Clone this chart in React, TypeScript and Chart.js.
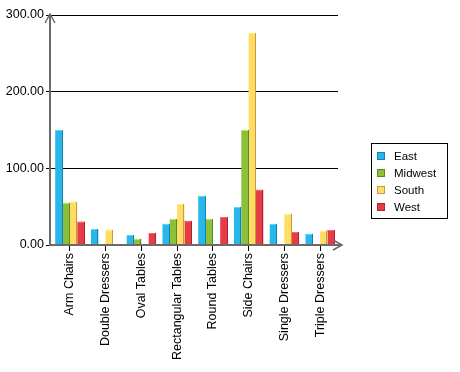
import React, { useEffect, useRef } from "react";
import { Chart, registerables } from "chart.js";

Chart.register(...registerables);

const categories = [
  "Arm Chairs",
  "Double Dressers",
  "Oval Tables",
  "Rectangular Tables",
  "Round Tables",
  "Side Chairs",
  "Single Dressers",
  "Triple Dressers",
];
const eastValues = [150, 20.5, 13, 27.5, 64, 49.5, 27.5, 14.5];
const midwestValues = [55, null, 8, 34, 34, 150, null, null];
const southValues = [56.5, 20, null, 53.5, null, 276.5, 40.5, 18.5];
const westValues = [30.5, null, 15.5, 31.5, 36.5, 72, 17, 19.5];
const yTicks = [0, 100, 200, 300];

const seriesNames = ["East", "Midwest", "South", "West"];
const fills = ["#29b6e8", "#8cbf3a", "#ffdc64", "#e63c46"];
const lights = ["#44e4f6", "#b6e65a", "#fff088", "#fa6a6e"];
const darks = ["#1680b4", "#5a8a22", "#c49a3c", "#a82430"];

const FONT = "'Liberation Sans', Arial, sans-serif";

const deco = {
  id: "deco",
  afterDatasetsDraw(chart: any) {
    const ctx = chart.ctx;
    ctx.save();
    chart.data.datasets.forEach((ds: any, di: number) => {
      const meta = chart.getDatasetMeta(di);
      meta.data.forEach((el: any, i: number) => {
        if (ds.data[i] == null) return;
        const p = el.getProps(["x", "y", "base", "width"], true);
        const l = Math.round(p.x - p.width / 2);
        const r = Math.round(p.x + p.width / 2);
        const t = Math.round(p.y);
        const b = Math.round(p.base);
        ctx.fillStyle = darks[di];
        ctx.fillRect(r - 1, t, 1, b - t);
        ctx.fillStyle = lights[di];
        ctx.fillRect(l, t, r - l - 1, 1);
      });
    });
    ctx.restore();
  },
  afterDraw(chart: any) {
    const ctx = chart.ctx;
    const a = chart.chartArea;
    const ax = a.left - 2;
    ctx.save();
    // axes
    ctx.strokeStyle = "#6e6868";
    ctx.lineWidth = 2;
    ctx.beginPath();
    ctx.moveTo(ax, a.bottom);
    ctx.lineTo(ax, a.top - 1);
    ctx.moveTo(ax - 1, a.bottom);
    ctx.lineTo(a.right + 3, a.bottom);
    ctx.stroke();
    ctx.lineWidth = 1.5;
    ctx.beginPath();
    ctx.moveTo(ax - 5, a.top + 8);
    ctx.lineTo(ax, a.top - 1);
    ctx.lineTo(ax + 5, a.top + 8);
    ctx.moveTo(a.right - 5, a.bottom - 5);
    ctx.lineTo(a.right + 4, a.bottom);
    ctx.lineTo(a.right - 5, a.bottom + 5);
    ctx.stroke();
    // legend
    const bx = 371.5, by = 143.5, bw = 76, bh = 75;
    ctx.strokeStyle = "#000";
    ctx.lineWidth = 1;
    ctx.strokeRect(bx, by, bw, bh);
    ctx.font = "11.5px " + FONT;
    ctx.textBaseline = "middle";
    ctx.textAlign = "left";
    seriesNames.forEach((n, i) => {
      const cy = 156 + i * 17;
      ctx.fillStyle = fills[i];
      ctx.fillRect(377, cy - 4, 8, 8);
      ctx.strokeStyle = darks[i];
      ctx.strokeRect(377.5, cy - 3.5, 7, 7);
      ctx.fillStyle = "#000";
      ctx.fillText(n, 394, cy + 0.5);
    });
    ctx.restore();
  },
};

export default function App() {
  const ref = useRef<HTMLCanvasElement>(null);
  useEffect(() => {
    const all = [eastValues, midwestValues, southValues, westValues];
    const chart = new Chart(ref.current!, {
      type: "bar",
      data: {
        labels: categories,
        datasets: all.map((d, i) => ({
          label: seriesNames[i],
          data: d as any,
          backgroundColor: fills[i],
          borderWidth: 0,
          categoryPercentage: 0.82,
          barPercentage: 1,
        })),
      },
      options: {
        animation: false,
        responsive: false,
        maintainAspectRatio: false,
        layout: { padding: { left: 0, right: 122, top: 15, bottom: 0 } },
        plugins: { legend: { display: false }, tooltip: { enabled: false } },
        scales: {
          x: {
            grid: {
              offset: false,
              drawOnChartArea: false,
              drawTicks: true,
              tickLength: 6,
              color: "#000",
            },
            border: { display: false },
            ticks: {
              minRotation: 90,
              maxRotation: 90,
              autoSkip: false,
              color: "#000",
              padding: 2,
              font: { family: FONT, size: 12.5 },
            },
            afterFit: (s: any) => {
              s.height = 127;
            },
          },
          y: {
            min: 0,
            max: 300,
            afterBuildTicks: (s: any) => {
              s.ticks = yTicks.map((v) => ({ value: v }));
            },
            grid: { color: "#000", tickLength: 6, drawTicks: true },
            border: { display: false },
            ticks: {
              color: "#000",
              padding: 2,
              font: { family: FONT, size: 12.5 },
              callback: (v: any) => Number(v).toFixed(2),
            },
            afterFit: (s: any) => {
              s.width = 52;
            },
          },
        },
      },
      plugins: [deco],
    });
    return () => chart.destroy();
  }, []);
  return (
    <div style={{ position: "fixed", left: 0, top: 0, width: 460, height: 372, background: "#fff" }}>
      <canvas ref={ref} width={460} height={372} style={{ width: 460, height: 372 }} />
    </div>
  );
}
